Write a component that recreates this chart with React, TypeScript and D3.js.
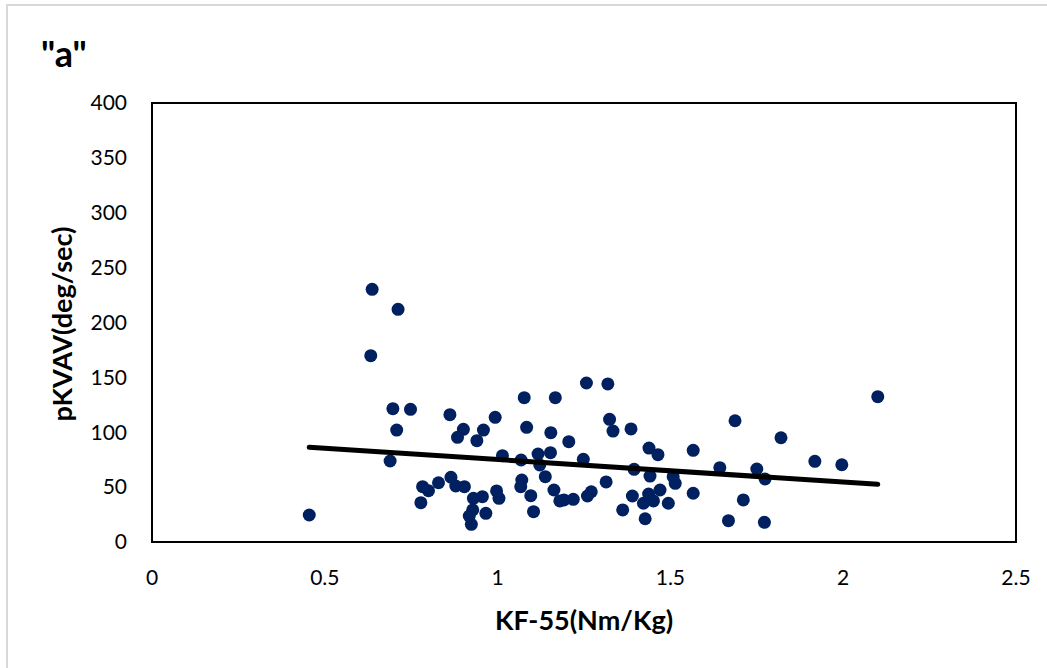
import React from "react";
import * as d3 from "d3";

const title = '"a"';
const xTitle = "KF-55(Nm/Kg)";
const yTitle = "pKVAV(deg/sec)";
const xTicks = [0, 0.5, 1, 1.5, 2, 2.5];
const yTicks = [0, 50, 100, 150, 200, 250, 300, 350, 400];

const kf55 = [
  0.637, 0.712, 0.633, 0.697, 0.748, 0.708, 0.862, 0.901, 0.884, 0.94, 0.689, 0.455,
  0.783, 0.80, 0.829, 0.778, 0.865, 0.879, 0.904, 0.93, 0.928, 0.918, 0.924,
  0.959, 0.993, 1.014, 1.077, 1.084, 1.167, 1.154, 1.206, 1.257, 1.319, 1.324, 1.334,
  1.386, 1.438, 1.464, 1.566, 1.068, 1.117, 1.153, 1.122, 1.248, 1.138, 1.395, 1.441,
  1.508, 1.514, 1.314, 1.07, 1.067, 0.956, 0.997, 1.004, 0.966, 1.096, 1.104, 1.163,
  1.18, 1.192, 1.219, 1.26, 1.271, 1.362, 1.39, 1.427, 1.422, 1.437, 1.451, 1.47,
  1.494, 1.566, 1.687, 1.643, 1.75, 1.774, 1.711, 1.668, 1.772, 1.82, 1.918, 1.996, 2.1,
];
const pkvav = [
  230.2, 212, 169.8, 121.5, 120.9, 102, 116, 102.7, 95.4, 92.3, 73.8, 24.6,
  50.4, 46.8, 54, 35.8, 59, 51, 50.4, 39.8, 29.2, 23.7, 16.1,
  102, 113.6, 78.7, 131.5, 104.5, 131.5, 99.6, 91.4, 144.9, 144, 111.8, 101.1,
  103, 85.6, 79.6, 83.5, 74.7, 80.2, 81.4, 70.2, 75.3, 59.5, 66.2, 60.1,
  59.5, 53.5, 54.7, 56.5, 50.4, 41.3, 46.5, 39.8, 26.1, 42.2, 27.6, 47.4,
  37.4, 38.3, 38.9, 41.9, 45.8, 29.2, 41.9, 21.2, 35.3, 43.7, 37.4, 47.4,
  35.3, 44.4, 110.5, 67.7, 66.5, 57.4, 38.3, 19.4, 17.9, 95, 73.5, 70.4, 132.4,
];
const trendX = [0.455, 2.1];
const trendY = [86.3, 52.6];

const W = 1047;
const H = 668;
const left = 152;
const right = 1016;
const top = 103;
const bottom = 542;

export default function App() {
  const x = d3.scaleLinear().domain([0, 2.5]).range([left, right]);
  const y = d3.scaleLinear().domain([0, 400]).range([bottom, top]);
  const line = d3
    .line<number>()
    .x((d) => x(d))
    .y((_, i) => y(trendY[i]));
  const font = "Lato, 'Noto Sans', sans-serif";
  return (
    <svg
      width={W}
      height={H}
      style={{ position: "absolute", left: 0, top: 0, background: "#fff" }}
      fontFamily={font}
    >
      <rect x={7} y={5} width={W + 10} height={H + 10} fill="#fff" stroke="#d9d9d9" strokeWidth={2} />
      <text x={41} y={67} fontSize={36} fontWeight="bold" fill="#000">
        {title}
      </text>
      {yTicks.map((t) => (
        <text key={"y" + t} x={127} y={y(t)} dy="0.35em" textAnchor="end" fontSize={21} fill="#000">
          {t}
        </text>
      ))}
      {xTicks.map((t) => (
        <text key={"x" + t} x={x(t)} y={578} dy="0.35em" textAnchor="middle" fontSize={21} fill="#000">
          {t}
        </text>
      ))}
      <rect
        x={left}
        y={top}
        width={right - left}
        height={bottom - top}
        fill="none"
        stroke="#000"
        strokeWidth={2}
      />
      {kf55.map((v, i) => (
        <circle key={i} cx={x(v)} cy={y(pkvav[i])} r={6.5} fill="#002060" />
      ))}
      <path d={line(trendX) || ""} fill="none" stroke="#000" strokeWidth={5} strokeLinecap="round" />
      <text x={584} y={630} textAnchor="middle" fontSize={27} fontWeight="bold" fill="#000">
        {xTitle}
      </text>
      <text
        transform={`translate(72,324) rotate(-90)`}
        textAnchor="middle"
        fontSize={27}
        fontWeight="bold"
        fill="#000"
      >
        {yTitle}
      </text>
    </svg>
  );
}
